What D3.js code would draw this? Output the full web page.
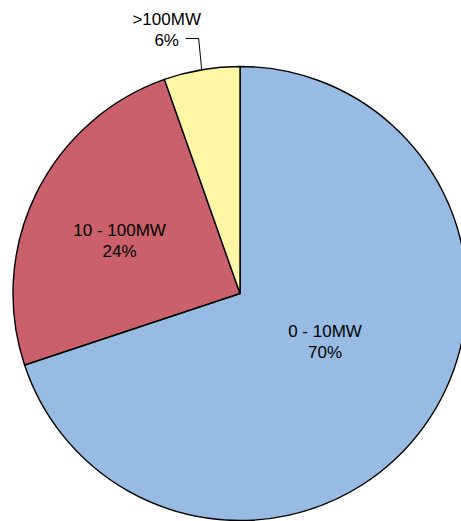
<!DOCTYPE html>
<html>
<head>
<meta charset="utf-8">
<style>
  body { margin: 0; background: #fff; }
  text { font-family: "Liberation Sans", Arial, sans-serif; font-size: 17px; fill: #000; }
</style>
</head>
<body>
<script src="https://cdn.jsdelivr.net/npm/d3@7/dist/d3.min.js"></script>
<script>
  // data
  var categories = ["0 - 10MW", "10 - 100MW", ">100MW"];
  var shares = [69.9, 24.7, 5.4];          // slice sizes
  var pctLabels = ["70%", "24%", "6%"];
  var colors = ["#97bbe3", "#c9606c", "#fff6a6"];

  var width = 461, height = 521;
  var cx = 240, cy = 293.5, R = 227;

  var svg = d3.select("body").append("svg")
    .attr("width", width)
    .attr("height", height);

  var g = svg.append("g").attr("transform", "translate(" + cx + "," + cy + ")");

  var pie = d3.pie().sort(null).value(function(d){ return d; });
  var arcs = pie(shares);
  var arc = d3.arc().innerRadius(0).outerRadius(R);

  g.selectAll("path").data(arcs).enter().append("path")
    .attr("d", arc)
    .attr("fill", function(d, i){ return colors[i]; })
    .attr("stroke", "#000")
    .attr("stroke-width", 1.4)
    .attr("stroke-linejoin", "round");

  // inside labels: centroid of the slice, nudged a bit
  var nudge = [[-7, -19], [-18.5, -3.5]];
  [0, 1].forEach(function(i){
    var c = arc.centroid(arcs[i]);
    var x = c[0] + nudge[i][0], y = c[1] + nudge[i][1];
    var t = g.append("text").attr("text-anchor", "middle")
      .attr("transform", "translate(" + x + "," + y + ")");
    t.append("tspan").attr("x", 0).attr("y", -4).text(categories[i]);
    t.append("tspan").attr("x", 0).attr("y", 17).text(pctLabels[i]);
  });

  // outside label for the small slice
  var s = arcs[2];
  var m = (s.startAngle + s.endAngle) / 2;
  var px = R * Math.sin(m), py = -R * Math.cos(m);
  var lx = px - 3, ly = -R - 28;
  var lbl = g.append("text").attr("text-anchor", "middle")
    .attr("transform", "translate(" + (lx - 32) + "," + ly + ")");
  lbl.append("tspan").attr("x", 0).attr("y", -14).text(categories[2]);
  lbl.append("tspan").attr("x", 0).attr("y", 7).text(pctLabels[2]);

  g.append("path")
    .attr("d", d3.line()([[lx - 13, ly], [lx, ly], [px, py]]))
    .attr("fill", "none")
    .attr("stroke", "#000")
    .attr("stroke-width", 1);
</script>
</body>
</html>
